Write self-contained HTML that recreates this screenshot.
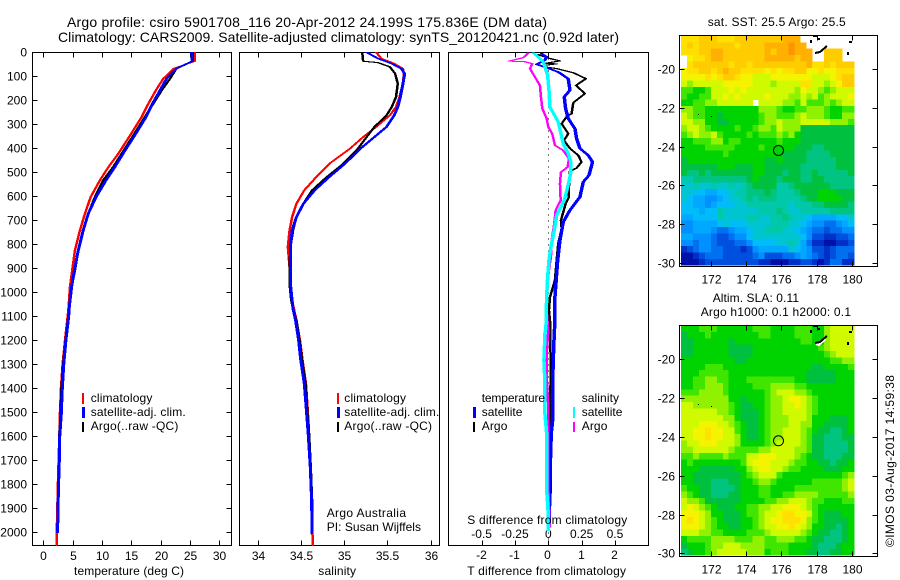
<!DOCTYPE html>
<html lang="en">
<head>
<meta charset="utf-8">
<title>Argo profile csiro 5901708_116</title>
<style>
html,body{margin:0;padding:0;background:#fff;width:900px;height:580px;overflow:hidden}
svg{display:block;font-family:"Liberation Sans",Arial,sans-serif;font-size:12px;fill:#000}
.ax{fill:none;stroke:#000;stroke-width:1;shape-rendering:crispEdges}
.t14{font-size:14px}
</style>
</head>
<body>
<svg id="chart" xmlns="http://www.w3.org/2000/svg" width="900" height="580" viewBox="0 0 900 580">
  <rect x="0" y="0" width="900" height="580" fill="#fff"/>
  <text class="t14" x="67" y="27" textLength="480" lengthAdjust="spacing">Argo profile: csiro 5901708_116 20-Apr-2012 24.199S 175.836E (DM data)</text>
  <text class="t14" x="58" y="42" textLength="561" lengthAdjust="spacing">Climatology: CARS2009. Satellite-adjusted climatology: synTS_20120421.nc (0.92d later)</text>

  <g id="maps"></g>
  <g id="p1"></g>
  <g id="p2"></g>
  <g id="p3"></g>

  <text x="74" y="575" textLength="110">temperature (deg C)</text>
  <text x="318.3" y="575" textLength="37.7">salinity</text>
  <text x="467.3" y="524" textLength="160">S difference from climatology</text>
  <text x="467.3" y="575" textLength="158.7">T difference from climatology</text>

  <g>
    <rect x="82" y="393" width="2" height="11" fill="#f00"/>
    <rect x="82" y="407" width="3" height="11" fill="#00f"/>
    <rect x="82" y="422" width="2" height="10" fill="#000"/>
    <text x="90.7" y="402" textLength="61.7">climatology</text>
    <text x="90.7" y="416" textLength="95">satellite-adj. clim.</text>
    <text x="90.7" y="430" textLength="87.7">Argo(..raw -QC)</text>
  </g>
  <g>
    <rect x="337" y="393" width="2" height="11" fill="#f00"/>
    <rect x="337" y="407" width="3" height="11" fill="#00f"/>
    <rect x="337" y="422" width="2" height="10" fill="#000"/>
    <text x="344.3" y="402" textLength="61.7">climatology</text>
    <text x="344.3" y="416" textLength="95">satellite-adj. clim.</text>
    <text x="344.3" y="430" textLength="87.7">Argo(..raw -QC)</text>
  </g>
  <text x="326.7" y="517" textLength="79.3">Argo Australia</text>
  <text x="326.7" y="531" textLength="94.3">PI: Susan Wijffels</text>
  <g>
    <text x="481.7" y="402" textLength="63.3">temperature</text>
    <rect x="473" y="407" width="3" height="11" fill="#00f"/>
    <rect x="473" y="422" width="2" height="10" fill="#000"/>
    <text x="481.7" y="416" textLength="40.7">satellite</text>
    <text x="481.7" y="430" textLength="25.7">Argo</text>
    <text x="581.7" y="402" textLength="37.3">salinity</text>
    <rect x="573" y="407" width="2" height="11" fill="#0ff"/>
    <rect x="573" y="422" width="2" height="10" fill="#f0f"/>
    <text x="581.7" y="416" textLength="40.7">satellite</text>
    <text x="581.7" y="430" textLength="25.7">Argo</text>
  </g>

  <text x="707.7" y="26" textLength="138">sat. SST: 25.5 Argo: 25.5</text>
  <text x="712.7" y="302" textLength="86.3">Altim. SLA: 0.11</text>
  <text x="700.7" y="316" textLength="150.3">Argo h1000: 0.1 h2000: 0.1</text>
  <text transform="translate(894,547) rotate(-90)" x="0" y="0" textLength="172">©IMOS 03-Aug-2017 14:59:38</text>
</svg>

<script>
/* ---------- axis tick labels ---------- */
const depthTicks = [0,100,200,300,400,500,600,700,800,900,1000,1100,1200,1300,1400,1500,1600,1700,1800,1900,2000];
const tempTicks = [0,5,10,15,20,25,30];
const salTicks = [34,34.5,35,35.5,36];
const salTickLabels = ['34','34.5','35','35.5','36'];
const tDiffTicks = [-2,-1,0,1,2];
const tDiffLabels = ['-2','-1','0','1','2'];
const sDiffTicks = [-0.5,-0.25,0,0.25,0.5];
const sDiffLabels = ['-0.5','-0.25','0','0.25','0.5'];
const lonTicks = [172,174,176,178,180];
const latTicks = [-20,-22,-24,-26,-28,-30];

/* ---------- temperature profiles ---------- */
const tempDepth = [0,37,68,110,158,214,270,346,422,478,533,603,672,742,825,908,978,1061,1103,1200,1297,1401,1506,1603,1700,1797,1901,2001,2054];
const tempClim = [25.8,25.8,22.2,20.45,19.2,17.9,16.75,14.8,12.8,11.1,9.66,8.07,7.1,6.25,5.4,4.94,4.55,4.32,4.15,3.7,3.3,3.0,2.84,2.73,2.61,2.5,2.39,2.3,2.27];
const tempArgo = [25.5,25.5,22.7,21.6,20.2,18.75,17.3,15.35,13.35,11.9,10.2,8.8,7.67,6.8,5.97,5.4,4.83,4.43,4.26,3.8,3.4,3.1,2.95,2.73,2.73,2.56,2.5,2.39];
const tempSat = [25.3,25.4,22.7,21.0,19.9,18.6,17.5,15.6,13.6,12.2,10.7,9.0,7.67,6.8,5.97,5.3,4.83,4.43,4.32,3.86,3.5,3.24,3.07,2.8,2.73,2.61,2.5,2.44];

/* ---------- salinity profiles ---------- */
const salDepth = [0,26,47,68,89,130,186,228,262,311,353,401,464,519,575,631,686,742,811,894,964,1033,1068,1117,1200,1283,1381,1492,1589,1728,1867,2006,2054];
const salClim = [35.37,35.43,35.58,35.68,35.69,35.68,35.64,35.60,35.53,35.37,35.22,35.07,34.83,34.68,34.54,34.45,34.40,34.37,34.35,34.37,34.38,34.40,34.42,34.45,34.49,34.52,34.56,34.58,34.595,34.615,34.63,34.635,34.64];
const salSat = [35.26,35.39,35.55,35.66,35.70,35.68,35.65,35.62,35.58,35.49,35.35,35.19,35.01,34.83,34.66,34.53,34.45,34.40,34.38,34.38,34.38,34.40,34.41,34.44,34.475,34.50,34.54,34.565,34.585,34.61,34.625,34.63];
const salArgoDepth = [0,37,43,61,89,130,186,228,262,311,353,401,464,519,575,631,686,742,811,894,964,1033,1068,1117,1200,1283,1381,1492,1589,1728,1867,2006];
const salArgo = [35.21,35.22,35.39,35.53,35.59,35.62,35.60,35.55,35.49,35.35,35.26,35.16,34.99,34.80,34.63,34.53,34.45,34.41,34.38,34.37,34.37,34.39,34.41,34.45,34.485,34.515,34.555,34.575,34.595,34.615,34.63,34.635];

/* ---------- differences from climatology ---------- */
const dtArgoDepth = [10,24,36,47,48,54,61,68,85,110,138,172,210,256,265,297,339,367,401,429,457,482,496,512,561,603,631,700,735,797,867,950,1020,1075,1130,1214,1270,1367,1575,1589,1741,1830,1867,1990];
const dtArgo = [-0.30,0.00,0.35,-0.15,0.25,-0.10,-0.10,0.25,0.75,1.13,0.83,1.10,0.75,0.70,0.57,0.40,0.60,0.47,0.65,0.90,1.00,0.85,0.65,0.65,0.62,0.62,0.52,0.38,0.40,0.30,0.25,0.20,0.05,0.02,0.06,0.06,0.07,0.07,0.03,0.04,0.08,0.08,0.02,0.02];
const dtSatDepth = [6,19,33,50,64,82,110,158,186,235,276,318,360,401,429,457,513,540,603,658,707,783,867,922,1019,1075,1117,1172,1283,1381,1519,1589,1728,1867,1978];
const dtSat = [-0.20,-0.05,-0.10,-0.35,-0.05,0.30,0.60,0.65,0.48,0.52,0.60,0.80,0.85,0.95,1.20,1.33,1.22,1.05,0.95,0.65,0.45,0.35,0.28,0.25,0.20,0.20,0.20,0.18,0.15,0.13,0.14,0.09,0.06,0.04,0.02];
const dsArgoDepth = [3,22,37,38,47,68,103,138,186,235,276,311,339,388,408,443,478,499,547,617,658,714,783,853,908,978,1075,1158,1242,1367,1478,1547,1617,1800,1978];
const dsArgo = [-0.15,-0.1875,-0.295,-0.1875,-0.12,-0.1375,-0.10,-0.0625,-0.055,-0.045,-0.0125,0,0.03,0.05,0.11,0.155,0.145,0.095,0.0875,0.0925,0.055,0.045,0.025,0.02,0.005,-0.01,-0.0125,0,-0.01,-0.01,0,0,0,0,0.01];
const dsSatDepth = [3,26,40,61,96,158,228,290,339,381,422,457,499,561,617,679,742,811,867,936,1019,1075,1144,1172,1283,1381,1506,1589,1728,1839,1922,1992];
const dsSat = [-0.1125,-0.0625,-0.0375,-0.025,-0.005,0.005,0.0125,0.075,0.095,0.1125,0.15,0.17,0.17,0.145,0.12,0.0625,0.045,0.02,0.005,-0.005,-0.0125,-0.015,-0.0175,-0.025,-0.0325,-0.025,-0.025,-0.0125,-0.01,-0.01,0,0];

/* ---------- map grids: colour level per cell, -1 = no data ---------- */
const sstLevels = [
[17,17,17,18,18,18,17,17,17,18,18,18,18,18,18,18,18,19,19,19,-1,-1,-1,-1,-1,-1,-1,-1,-1],
[17,18,17,18,18,18,18,18,18,17,18,18,18,18,19,19,19,19,20,19,19,-1,-1,-1,-1,-1,-1,-1,-1],
[17,17,17,18,18,19,19,18,18,18,18,18,18,18,19,18,19,19,20,19,19,19,-1,-1,18,18,18,-1,-1],
[-1,16,17,17,18,19,19,18,18,18,18,18,18,18,19,19,19,19,19,18,19,19,-1,-1,18,18,18,-1,-1],
[-1,17,18,18,18,18,18,18,17,18,18,17,18,18,18,18,18,18,18,18,18,19,17,17,18,17,18,18,18],
[16,17,17,18,18,17,18,19,18,18,17,17,17,17,16,17,16,17,17,18,18,16,16,17,16,16,17,17,17],
[16,16,16,16,17,16,17,18,18,17,16,16,15,15,15,16,16,16,16,16,16,16,15,15,15,16,17,18,18],
[15,14,15,15,15,15,15,16,16,16,16,16,15,15,15,14,15,15,15,15,17,17,15,15,14,15,16,18,18],
[13,13,12,12,13,15,15,15,16,15,16,15,15,15,15,15,15,15,15,14,16,15,15,14,13,14,15,15,15],
[13,12,12,13,13,15,15,16,15,16,15,15,15,15,16,15,15,15,14,14,15,14,15,13,14,15,15,15,16],
[12,12,13,13,14,14,15,15,15,15,15,15,-1,15,15,15,15,14,14,13,15,13,13,13,14,13,14,15,15],
[14,14,13,13,12,12,12,12,12,12,12,12,12,14,14,14,13,12,12,13,13,14,14,14,13,12,12,13,13],
[15,14,13,13,12,12,11,12,12,12,12,12,12,13,14,14,13,13,13,14,15,14,14,14,13,12,12,14,14],
[15,15,14,14,12,12,11,11,12,12,12,12,12,13,14,14,15,14,14,14,15,15,15,15,15,14,14,14,13],
[14,15,15,14,13,12,12,12,12,13,12,12,13,14,14,13,15,14,14,14,11,11,11,11,11,11,11,11,11],
[13,14,15,14,14,15,13,12,12,12,12,13,12,13,13,13,14,13,14,12,11,11,11,11,11,11,11,11,11],
[12,12,13,13,13,14,14,12,13,13,12,12,12,12,12,12,13,12,12,12,11,11,11,11,11,11,11,11,11],
[12,12,12,12,13,13,13,13,13,12,12,12,12,13,12,12,12,12,12,11,11,11,10,10,11,11,11,11,11],
[12,12,12,12,12,12,12,13,12,12,12,12,12,12,12,12,12,11,11,11,11,10,10,10,10,11,11,11,11],
[11,12,12,12,12,12,12,12,12,12,12,12,12,12,11,11,12,11,11,11,11,10,10,10,10,10,11,11,11],
[11,11,11,11,11,11,12,12,12,11,11,11,12,12,11,11,11,11,11,11,10,10,10,10,10,10,11,11,11],
[11,10,10,11,10,11,11,11,11,11,11,11,12,12,11,11,11,10,11,11,10,10,11,10,10,10,10,10,11],
[9,9,10,10,10,10,10,10,10,10,10,11,12,11,11,11,10,11,11,11,10,10,11,11,10,10,10,10,10],
[8,8,9,8,8,9,8,8,9,8,9,10,11,11,11,11,9,9,10,11,11,11,11,11,11,10,10,10,10],
[8,8,7,7,6,6,7,7,8,9,9,10,10,10,11,10,9,9,9,10,11,11,11,12,12,12,11,11,11],
[8,7,6,6,5,5,6,7,8,8,9,10,9,10,10,10,9,9,9,9,10,11,11,12,12,12,12,11,11],
[7,7,6,6,5,6,7,7,7,8,8,9,9,9,9,9,9,9,8,9,9,9,10,10,11,11,11,11,10],
[7,7,7,6,7,7,9,8,8,8,8,8,8,9,9,9,10,9,8,8,9,9,9,9,9,10,10,10,10],
[6,6,7,7,7,7,9,8,8,8,8,9,9,8,8,9,9,10,9,8,8,7,6,6,6,6,7,7,8],
[5,5,6,6,6,6,7,8,7,7,7,8,8,8,8,9,9,9,8,8,7,6,5,5,4,4,5,6,7],
[5,5,6,6,6,5,4,4,5,6,6,7,8,8,9,9,9,8,8,7,6,5,4,4,3,4,4,5,5],
[6,6,5,5,5,4,3,3,4,5,5,7,8,8,8,8,8,8,8,8,7,5,3,3,2,2,3,3,4],
[5,5,4,5,5,4,3,3,3,4,4,5,7,7,7,7,8,8,9,8,6,4,2,2,1,1,2,2,3],
[2,3,4,5,5,4,4,3,3,3,2,3,5,6,6,6,6,6,8,7,6,5,3,3,2,3,4,4,4],
[1,1,2,3,4,4,4,3,3,3,3,3,4,5,3,3,3,4,4,5,6,5,4,3,2,3,4,4,3],
[1,1,1,2,3,3,3,3,3,3,3,3,3,2,2,1,1,1,2,2,3,3,2,1,2,4,4,2,2]
];
const slaLevels = [
[12,12,12,13,13,13,12,12,12,12,12,12,13,13,13,12,12,12,12,13,13,13,12,12,14,15,15,15,15],
[11,12,12,12,13,12,12,12,12,12,12,12,12,13,13,12,12,12,12,13,13,13,12,12,14,15,15,15,15],
[11,11,12,12,12,12,12,12,11,12,12,12,12,12,12,12,12,12,12,12,13,13,12,12,14,15,15,15,15],
[11,11,12,12,12,12,12,12,11,11,11,11,12,12,12,12,12,12,12,12,12,12,12,13,14,15,15,15,15],
[11,11,12,12,12,12,12,12,11,11,11,11,12,12,12,12,12,12,12,12,12,12,12,12,13,14,15,15,15],
[12,12,12,12,12,12,12,12,12,11,11,12,12,12,12,12,12,12,12,12,12,12,12,12,12,13,13,14,14],
[12,12,12,12,13,13,13,12,12,12,12,12,12,12,12,12,12,12,12,12,12,12,11,11,12,12,12,12,13],
[12,12,12,13,13,13,13,13,12,12,12,12,12,12,12,12,12,12,12,12,12,11,11,11,11,11,12,12,12],
[12,12,13,13,14,14,13,13,12,12,12,13,13,13,13,13,13,13,13,12,12,11,11,11,11,11,12,12,12],
[12,12,13,13,14,14,14,13,12,12,12,12,13,13,13,14,14,14,14,13,13,12,12,12,12,12,12,12,12],
[13,13,13,14,14,14,14,13,12,12,12,12,12,12,13,14,15,15,15,14,14,13,12,12,12,12,12,12,12],
[14,14,14,14,14,14,14,14,12,12,11,12,12,12,13,14,14,15,16,16,15,14,13,12,12,12,12,12,12],
[15,15,14,14,14,14,14,14,13,12,11,11,12,12,13,14,14,15,15,16,15,14,13,12,12,12,12,12,12],
[15,15,15,15,15,15,14,14,13,12,11,11,11,12,13,14,14,15,15,15,15,14,13,12,12,12,12,12,12],
[15,15,15,15,15,15,15,14,14,12,11,11,11,12,13,14,14,14,15,15,15,14,12,12,12,11,11,11,12],
[15,15,15,16,16,16,15,15,14,13,12,11,11,12,13,14,14,14,15,15,14,14,12,12,11,11,11,11,12],
[15,15,16,16,17,16,16,15,15,13,12,11,11,12,13,14,14,15,15,15,14,13,12,11,11,10,10,11,12],
[15,15,16,16,17,16,16,15,15,14,12,11,11,12,13,14,14,15,15,15,14,13,11,11,10,10,10,11,11],
[14,15,15,16,16,16,15,15,15,14,12,12,12,12,13,14,15,15,15,15,14,13,11,11,10,10,10,10,11],
[14,14,15,15,15,15,15,15,14,13,13,13,13,14,14,15,15,15,15,14,14,13,11,11,10,10,10,10,11],
[13,13,14,13,13,13,13,14,13,13,13,15,15,16,16,16,15,15,15,14,13,12,11,11,10,10,10,11,11],
[12,13,12,12,12,12,12,12,12,12,13,15,16,16,16,15,15,15,14,13,13,12,12,11,11,10,11,11,12],
[12,12,12,11,11,11,11,11,11,12,12,14,15,16,16,15,15,14,13,13,12,12,12,12,11,11,11,12,12],
[12,12,11,11,11,11,11,11,11,11,12,13,14,15,15,15,13,12,12,12,12,12,12,12,12,12,12,13,14],
[12,12,11,11,11,10,10,10,11,11,12,12,13,14,14,13,12,12,12,12,12,12,13,13,13,13,13,14,15],
[13,12,12,11,11,10,10,10,10,11,12,12,12,13,13,12,12,12,12,13,13,13,13,13,13,13,13,14,15],
[14,13,12,11,11,10,10,10,11,11,12,12,12,13,13,12,12,13,13,14,14,14,14,13,13,13,13,13,14],
[15,14,14,13,11,11,11,11,11,11,12,12,12,12,13,13,14,14,15,15,15,14,13,13,12,12,12,13,13],
[15,16,15,14,13,12,11,11,11,12,12,13,13,14,14,15,15,16,16,16,15,14,13,12,12,12,12,12,12],
[16,16,16,15,14,12,12,11,11,11,12,13,13,14,15,15,16,17,17,16,16,15,13,12,11,11,11,12,12],
[16,17,16,15,14,13,12,11,11,11,12,12,13,14,15,16,16,17,17,17,16,14,13,12,11,11,11,11,12],
[16,16,16,15,14,13,12,12,11,11,12,12,13,14,15,15,16,16,17,16,15,14,12,12,11,11,10,11,12],
[15,15,15,14,14,13,13,12,12,12,12,13,13,13,14,15,15,15,15,15,14,13,12,11,11,10,10,11,12],
[12,13,13,13,13,14,14,14,14,13,13,13,14,14,13,13,14,14,14,13,13,12,11,11,10,10,10,11,12],
[11,12,12,12,13,14,14,15,15,15,14,14,14,14,13,13,13,13,12,12,12,12,11,10,10,10,11,12,12],
[10,11,12,12,13,14,15,15,15,15,15,14,14,14,12,13,13,13,12,12,12,11,11,10,10,11,11,12,12]
];
const floatLon = [175.836];
const floatLat = [-24.199];

/* ---------- colour scale ---------- */
const palette = ['#000090','#0010a8','#0030c8','#0050e0','#0070f0','#0090ff','#00a8ff','#00bcf8','#00c4d0','#00c8a8','#00c480','#00c040','#00d400','#40e600','#90f200','#d0fa00','#f4f400','#ffe000','#ffcc00','#ffb000','#ff9400'];

/* ---------- scales ---------- */
const depthY = d => 52.3 + d * 0.24;
const tempX = t => 43.3 + t * 5.867;
const salX = s => 257.5 + (s - 34) * 86.6;
const dtX = t => 548.3 + t * 33.3;
const dsX = s => 548.3 + s * 133.3;
const lonX = l => 710.7 + (l - 172) * 17.67;
const latYTop = l => 69 + (-20 - l) * 19.4;
const latYBot = l => 359.3 + (-20 - l) * 19.4;

const NS = 'http://www.w3.org/2000/svg';
function mk(parent, tag, attrs, name) {
  const el = document.createElementNS(NS, tag);
  for (const k in attrs) el.setAttribute(k, attrs[k]);
  
  
  parent.appendChild(el);
  return el;
}
function label(parent, x, y, str, anchor, name) {
  const el = mk(parent, 'text', {x: x, y: y, 'text-anchor': anchor}, name);
  el.textContent = str;
  return el;
}
function tick(parent, x1, y1, x2, y2, name) {
  mk(parent, 'line', {x1: x1, y1: y1, x2: x2, y2: y2, class: 'ax'}, name);
}
/* Profile pen is wide horizontally but thin vertically, as in the original bitmap plot. */
function profile(parent, xs, ys, fx, color, w, name) {
  const n = Math.min(xs.length, ys.length);
  const hw = (w - 1) / 2;
  const left = [];
  const right = [];
  for (let i = 0; i < n; i++) {
    const x = fx(xs[i]);
    const y = depthY(ys[i]).toFixed(1);
    left.push((x - hw).toFixed(1) + ',' + y);
    right.unshift((x + hw).toFixed(1) + ',' + y);
  }
  mk(parent, 'polygon', {points: left.concat(right).join(' '), fill: color, stroke: color, 'stroke-width': 1, 'shape-rendering': 'crispEdges', 'stroke-linejoin': 'round'}, name);
}

const TOP = 52.5, BOT = 545.5;

/* temperature panel */
const p1 = document.getElementById('p1');
mk(p1, 'rect', {x: 32.5, y: TOP, width: 199, height: BOT - TOP, class: 'ax'}, 'temperature-axes-box');
depthTicks.forEach(d => {
  const y = Math.round(depthY(d)) + 0.5;
  tick(p1, 32.5, y, 37.5, y, 'depth-tick-left');
  tick(p1, 226.5, y, 231.5, y, 'depth-tick-right');
  label(p1, 27, y + 4, String(d), 'end', 'depth-tick-label');
});
tempTicks.forEach(t => {
  const x = Math.round(tempX(t)) + 0.5;
  tick(p1, x, TOP, x, TOP + 5, 'temp-tick-top');
  tick(p1, x, BOT, x, BOT - 5, 'temp-tick-bottom');
  label(p1, x, 560, String(t), 'middle', 'temp-tick-label');
});
profile(p1, tempClim, tempDepth, tempX, '#f00', 2.5, 'temperature-climatology-line');
profile(p1, tempArgo, tempDepth, tempX, '#000', 2.5, 'temperature-argo-line');
profile(p1, tempSat, tempDepth, tempX, '#00f', 3, 'temperature-satellite-line');

/* salinity panel */
const p2 = document.getElementById('p2');
mk(p2, 'rect', {x: 239.5, y: TOP, width: 200, height: BOT - TOP, class: 'ax'}, 'salinity-axes-box');
salTicks.forEach((s, i) => {
  const x = Math.round(salX(s)) + 0.5;
  tick(p2, x, TOP, x, TOP + 5, 'sal-tick-top');
  tick(p2, x, BOT, x, BOT - 5, 'sal-tick-bottom');
  label(p2, x, 560, salTickLabels[i], 'middle', 'sal-tick-label');
});
profile(p2, salClim, salDepth, salX, '#f00', 2.5, 'salinity-climatology-line');
profile(p2, salArgo, salArgoDepth, salX, '#000', 2.5, 'salinity-argo-line');
profile(p2, salSat, salDepth, salX, '#00f', 3, 'salinity-satellite-line');

/* difference panel */
const p3 = document.getElementById('p3');
mk(p3, 'rect', {x: 448.5, y: TOP, width: 200, height: BOT - TOP, class: 'ax'}, 'difference-axes-box');
mk(p3, 'line', {x1: dtX(0), y1: TOP, x2: dtX(0), y2: BOT, stroke: '#000', 'stroke-width': 1, 'stroke-dasharray': '1 5', 'shape-rendering': 'crispEdges'}, 'zero-reference-line');
tDiffTicks.forEach((t, i) => {
  const x = Math.round(dtX(t)) + 0.5;
  tick(p3, x, TOP, x, TOP + 5, 't-diff-tick-top');
  tick(p3, x, BOT, x, BOT - 5, 't-diff-tick-bottom');
  label(p3, x - 1, 559, tDiffLabels[i], 'middle', 't-diff-tick-label');
});
sDiffTicks.forEach((s, i) => {
  label(p3, dsX(s), 538, sDiffLabels[i], 'middle', 's-diff-tick-label');
});
profile(p3, dtArgo, dtArgoDepth, dtX, '#000', 2.5, 't-diff-argo-line');
profile(p3, dtSat, dtSatDepth, dtX, '#00f', 3.5, 't-diff-satellite-line');
profile(p3, dsArgo, dsArgoDepth, dsX, '#f0f', 2.5, 's-diff-argo-line');
profile(p3, dsSat, dsSatDepth, dsX, '#0ff', 3.5, 's-diff-satellite-line');

/* maps */
const maps = document.getElementById('maps');
function drawMap(grid, top, bottom, latY, dataTop, rowH, name) {
  const g = mk(maps, 'g', {'shape-rendering': 'crispEdges'}, name);
  const colW = 173 / grid[0].length;
  grid.forEach((row, r) => {
    row.forEach((v, c) => {
      if (v < 0) return;
      mk(g, 'rect', {
        x: (681 + c * colW).toFixed(2),
        y: (dataTop + r * rowH).toFixed(2),
        width: (colW + 0.3).toFixed(2),
        height: (rowH + 0.3).toFixed(2),
        fill: palette[v]
      }, 'heatmap-cell');
    });
  });
  mk(maps, 'rect', {x: 679.5, y: top, width: 198, height: bottom - top, class: 'ax'}, name + '-axes-box');
  lonTicks.forEach(l => {
    const x = Math.round(lonX(l)) + 0.5;
    tick(maps, x, top, x, top + 5, 'lon-tick-top');
    tick(maps, x, bottom, x, bottom - 5, 'lon-tick-bottom');
    label(maps, x, bottom + 17, String(l), 'middle', 'lon-tick-label');
  });
  latTicks.forEach(l => {
    const y = Math.round(latY(l)) + 0.5;
    tick(maps, 679.5, y, 684.5, y, 'lat-tick-left');
    tick(maps, 872.5, y, 877.5, y, 'lat-tick-right');
    label(maps, 675, y + 4, String(l), 'end', 'lat-tick-label');
  });
  floatLon.forEach((l, i) => {
    mk(maps, 'circle', {cx: lonX(l), cy: latY(floatLat[i]), r: 5, fill: 'none', stroke: '#000', 'stroke-width': 1}, 'argo-float-marker');
  });
}
drawMap(sstLevels, 35.5, 266.5, latYTop, 36, 6.37, 'sst-map');
drawMap(slaLevels, 325.5, 556.5, latYBot, 325.5, 6.38, 'sla-map');

/* coastline specks */
[0, 290].forEach(dy => {
  const land = mk(maps, 'g', {'shape-rendering': 'crispEdges', fill: '#000', stroke: 'none'}, 'coastline-specks');
  if (dy) mk(land, 'polygon', {points: '815,' + (55 + dy) + ' 826,' + (47 + dy) + ' 826,' + (50 + dy) + ' 819,' + (56 + dy), fill: '#fff'}, 'land-patch');
  mk(land, 'polyline', {points: '815,' + (53 + dy) + ' 820,' + (52 + dy) + ' 827,' + (46 + dy), fill: 'none', stroke: '#000', 'stroke-width': 2}, 'island-outline');
  mk(land, 'rect', {x: 813, y: 35 + dy, width: 4, height: 2}, 'island-speck');
  mk(land, 'rect', {x: 818, y: 38 + dy, width: 2, height: 2}, 'island-speck');
  mk(land, 'rect', {x: 810, y: 40 + dy, width: 2, height: 3}, 'island-speck');
  mk(land, 'rect', {x: 849, y: 41 + dy, width: 3, height: 2}, 'island-speck');
  mk(land, 'rect', {x: 847, y: 52 + dy, width: 2, height: 3}, 'island-speck');
  mk(land, 'rect', {x: 698, y: 114 + dy, width: 1, height: 1}, 'island-speck');
  mk(land, 'rect', {x: 711, y: 116 + dy, width: 1, height: 1}, 'island-speck');
});
</script>
</body>
</html>
